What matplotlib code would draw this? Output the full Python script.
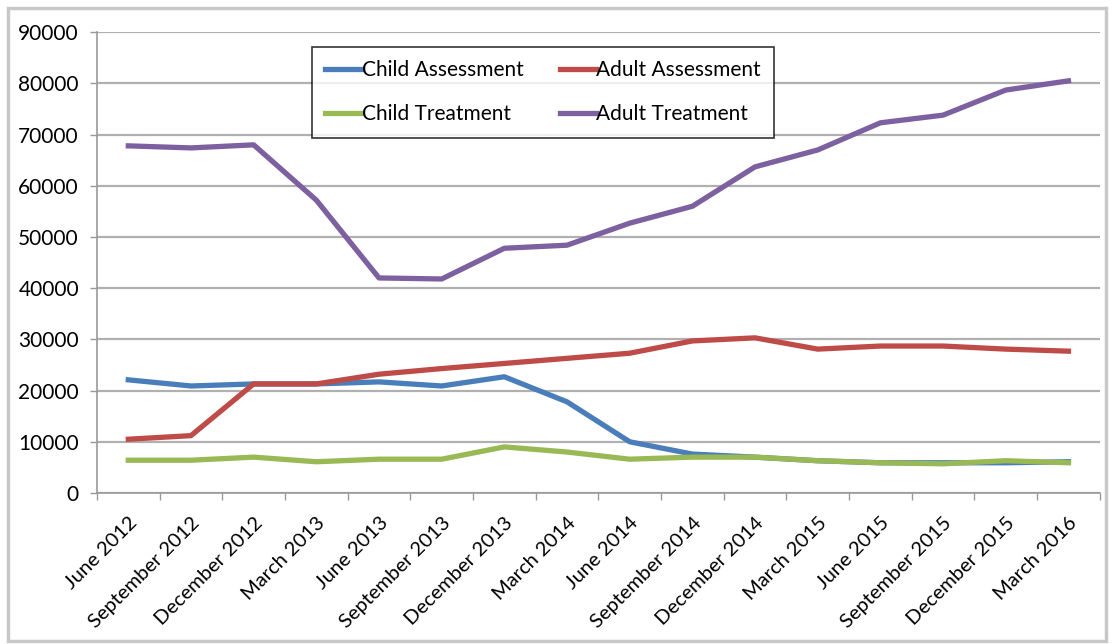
import matplotlib.pyplot as plt
from matplotlib.patches import Rectangle

plt.rcParams['font.family'] = ['Lato', 'DejaVu Sans']

# quarters on the x axis
quarters = ['June 2012', 'September 2012', 'December 2012', 'March 2013',
            'June 2013', 'September 2013', 'December 2013', 'March 2014',
            'June 2014', 'September 2014', 'December 2014', 'March 2015',
            'June 2015', 'September 2015', 'December 2015', 'March 2016']

# series values
child_assessment = [22100, 20900, 21300, 21300, 21700, 20900, 22700, 17800,
                    10000, 7600, 7000, 6300, 5900, 5900, 5900, 6100]
adult_assessment = [10500, 11200, 21300, 21300, 23200, 24300, 25300, 26300,
                    27300, 29700, 30300, 28100, 28700, 28700, 28100, 27700]
child_treatment = [6400, 6400, 7000, 6100, 6600, 6600, 9000, 8000,
                   6600, 7000, 7000, 6300, 5900, 5700, 6300, 5900]
adult_treatment = [67800, 67400, 68000, 57200, 42000, 41800, 47800, 48400,
                   52700, 56000, 63700, 67000, 72300, 73800, 78700, 80500]

fig = plt.figure(figsize=(11.12, 6.44), dpi=100)
ax = fig.add_axes([0.0872, 0.2345, 0.9018, 0.7155])

# outer chart border
fig.patches.append(Rectangle((0.007, 0.005), 0.988, 0.983, transform=fig.transFigure,
                             fill=False, edgecolor='#c8c8c8', linewidth=2.5))

x = list(range(len(quarters)))
lw = 3.8
l1, = ax.plot(x, child_assessment, color='#4a7ebb', lw=lw, label='Child Assessment', solid_joinstyle='round')
l2, = ax.plot(x, adult_assessment, color='#be4b48', lw=lw, label='Adult Assessment', solid_joinstyle='round')
l3, = ax.plot(x, child_treatment, color='#98b954', lw=lw, label='Child Treatment', solid_joinstyle='round')
l4, = ax.plot(x, adult_treatment, color='#7d60a0', lw=lw, label='Adult Treatment', solid_joinstyle='round')

ax.set_xlim(-0.5, len(quarters) - 0.5)
ax.set_ylim(0, 90000)
ax.set_yticks(range(0, 90001, 10000))
ax.yaxis.grid(True, color='#b0b0b0', linewidth=1.6)
ax.set_axisbelow(True)

# category labels centred, tick marks between categories
ax.set_xticks(x)
ax.set_xticklabels(quarters, rotation=45, ha='right', rotation_mode='anchor', fontsize=14.5)
ax.set_xticks([i - 0.5 for i in range(len(quarters) + 1)], minor=True)
ax.tick_params(axis='x', which='major', length=0, pad=15)
ax.tick_params(axis='x', which='minor', length=5, color='#999999', width=1)
ax.tick_params(axis='y', length=5, color='#999999', width=1, labelsize=15, pad=8)

for s in ['top', 'right']:
    ax.spines[s].set_visible(False)
for s in ['left', 'bottom']:
    ax.spines[s].set_color('#999999')
    ax.spines[s].set_linewidth(1.2)

# legend fills column-wise, so order handles to get the reference rows
leg = ax.legend([l1, l3, l2, l4],
                ['Child Assessment', 'Child Treatment', 'Adult Assessment', 'Adult Treatment'],
                ncol=2, loc='upper left', bbox_to_anchor=(0.214, 0.968),
                fontsize=15, frameon=True, fancybox=False, handlelength=1.75,
                handletextpad=0.0, columnspacing=1.75, labelspacing=1.15,
                borderpad=0.65, borderaxespad=0)
leg.get_frame().set_edgecolor('black')
leg.get_frame().set_linewidth(1.2)

fig.savefig('out.png', dpi=100)
